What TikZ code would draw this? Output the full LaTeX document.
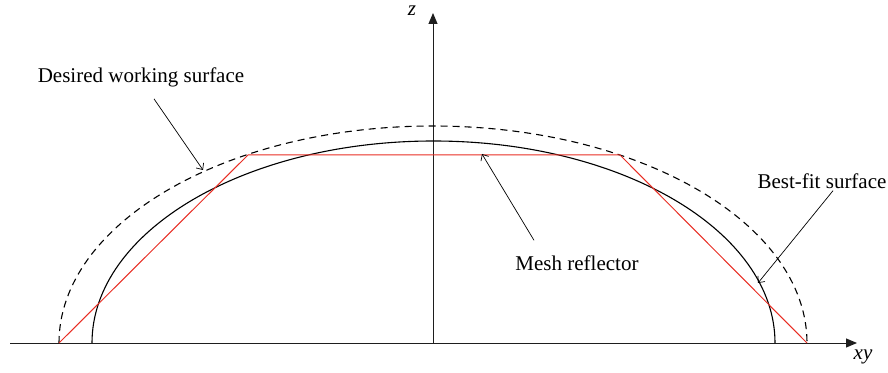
\documentclass[tikz,border=0pt]{standalone}
\usepackage{fontspec}
\setmainfont{Liberation Serif}
\usepackage{tikz}
\usetikzlibrary{arrows.meta, positioning}
\usepackage{xcolor}
\definecolor{meshred}{RGB}{232,45,35}
\definecolor{axisgray}{RGB}{30,30,30}

\begin{document}
\begin{tikzpicture}[
    x=1pt, y=1pt,
    axis/.style={line width=1pt, color=axisgray, -{Triangle[length=11pt, width=9pt]}},
    desired/.style={line width=1.1pt, dash pattern=on 7pt off 5pt},
    bestfit/.style={line width=1.1pt},
    mesh/.style={line width=1pt, color=meshred, line join=miter},
    lbl/.style={font=\fontsize{21}{24}\selectfont, inner sep=0pt},
    arr/.style={line width=0.7pt, -{Straight Barb[length=5pt, width=9pt]}}
]
    \useasboundingbox (0,0) rectangle (888,372);

    % axes
    \coordinate (o) at (433,29);
    \coordinate (xl) at (10,29);
    \coordinate (xr) at (857,29);
    \coordinate (zt) at (433,359);
    \draw[axis] (xl) -- (xr);
    \draw[axis] (o) -- (zt);
    \node (zlab) [lbl, anchor=base] at (412,356) {\textit{z}};
    \node (xylab) [lbl, anchor=base] at (863,13) {\textit{xy}};

    % surfaces
    \draw[desired] (59,29) arc[start angle=180, end angle=0, x radius=374, y radius=217];
    \draw[bestfit] (92,29) arc[start angle=180, end angle=0, x radius=341.5, y radius=202];
    \draw[mesh] (59,29) -- (248,217) -- (620,217) -- (807,29);

    % labels
    \node (dws) [lbl] at (141,295) {Desired working surface};
    \node (mr) [lbl] at (577,109) {Mesh reflector};
    \node (bfs) [lbl] at (822,191) {Best-fit surface};

    \coordinate (dwsend) at (203,202);
    \coordinate (mrend) at (482,218);
    \coordinate (bfsend) at (758,89);
    \draw[arr] (dws.south) ++(13,-12) -- (dwsend);
    \draw[arr] (mr.north) ++(-43,15) -- (mrend);
    \draw[arr] (bfs.south) ++(11,-2) -- (bfsend);
\end{tikzpicture}
\end{document}
